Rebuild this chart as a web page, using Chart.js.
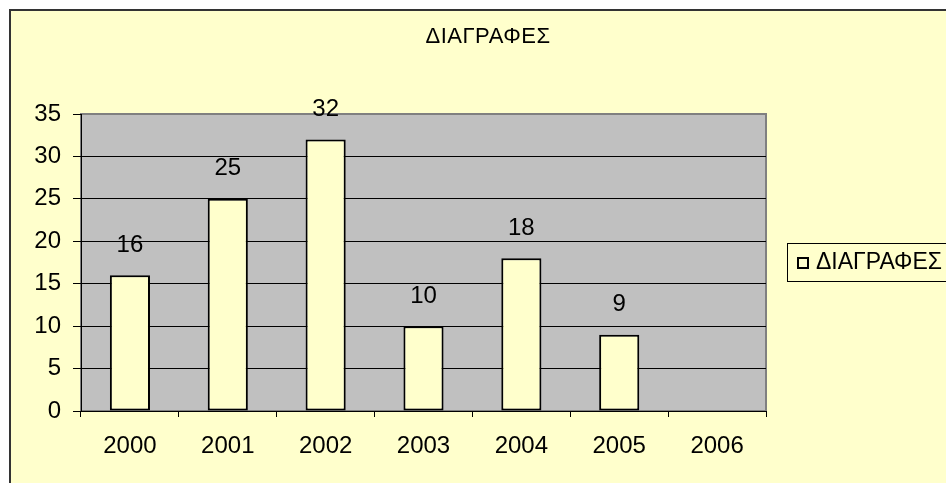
<!DOCTYPE html>
<html>
<head>
<meta charset="utf-8">
<script src="https://cdn.jsdelivr.net/npm/chart.js@4.4.1/dist/chart.umd.min.js"></script>
<style>
    html, body { margin: 0; padding: 0; background: #ffffff; }
    canvas { display: block; }
</style>
</head>
<body>
<canvas id="myChart" width="946" height="483"></canvas>
<script>
const chartTitle = "ΔΙΑΓΡΑΦΕΣ";
const seriesLabel = "ΔΙΑΓΡΑΦΕΣ";
const years = ["2000", "2001", "2002", "2003", "2004", "2005", "2006"];
const deletions = [16, 25, 32, 10, 18, 9, null];
const yMax = 35;
const yStep = 5;

const FONT = "'Liberation Sans', Arial, sans-serif";
const paper = "#FFFFCC";
const plotGray = "#C0C0C0";

// page background, frame and grey plot area
const backgroundPlugin = {
    id: "background",
    beforeDraw: (chart) => {
        const ctx = chart.ctx;
        const area = chart.chartArea;
        ctx.save();
        ctx.fillStyle = "#ffffff";
        ctx.fillRect(0, 0, chart.width, chart.height);
        ctx.fillStyle = paper;
        ctx.fillRect(10, 10, chart.width, chart.height);
        ctx.strokeStyle = "#333333";
        ctx.lineWidth = 2;
        ctx.strokeRect(10, 10, chart.width + 20, chart.height + 20);

        ctx.fillStyle = plotGray;
        ctx.fillRect(area.left, area.top, area.right - area.left, area.bottom - area.top);
        ctx.strokeStyle = "#808080";
        ctx.lineWidth = 2;
        ctx.strokeRect(area.left, area.top, area.right - area.left, area.bottom - area.top);
        ctx.restore();
    }
};

// title, value labels and legend box
const decorPlugin = {
    id: "decor",
    afterDraw: (chart) => {
        const ctx = chart.ctx;
        ctx.save();
        ctx.fillStyle = "#000000";
        ctx.textAlign = "center";
        ctx.textBaseline = "middle";

        ctx.font = "22px " + FONT;
        ctx.letterSpacing = "0.5px";
        ctx.fillText(chartTitle, 488, 37);
        ctx.letterSpacing = "0px";

        ctx.font = "24px " + FONT;
        const meta = chart.getDatasetMeta(0);
        meta.data.forEach((bar, i) => {
            const v = chart.data.datasets[0].data[i];
            if (v === null || v === undefined) return;
            ctx.fillText(String(v), bar.x, bar.y - 30);
        });

        // legend
        ctx.fillStyle = paper;
        ctx.fillRect(787, 243, 200, 39);
        ctx.strokeStyle = "#000000";
        ctx.lineWidth = 1;
        ctx.strokeRect(787.5, 243.5, 200, 38);
        ctx.fillStyle = paper;
        ctx.fillRect(797, 257, 11, 11);
        ctx.lineWidth = 2;
        ctx.strokeRect(798, 258, 10, 10);
        ctx.fillStyle = "#000000";
        ctx.textAlign = "left";
        ctx.font = "23px " + FONT;
        ctx.fillText(chart.data.datasets[0].label, 816, 263);
        ctx.restore();
    }
};

new Chart("myChart", {
    type: "bar",
    data: {
        labels: years,
        datasets: [{
            label: seriesLabel,
            data: deletions,
            backgroundColor: paper,
            borderColor: "#000000",
            borderWidth: 2,
            borderSkipped: false,
            categoryPercentage: 1.0,
            barPercentage: 0.41
        }]
    },
    options: {
        responsive: false,
        devicePixelRatio: 1,
        animation: false,
        layout: {
            padding: { left: 0, top: 114, right: 180, bottom: 0 }
        },
        scales: {
            x: {
                afterFit: (scale) => { scale.height = 72; },
                grid: {
                    offset: true,
                    drawOnChartArea: false,
                    drawTicks: true,
                    tickLength: 6,
                    tickColor: "#000000",
                    color: "#000000"
                },
                border: { display: true, color: "#000000", width: 1 },
                ticks: {
                    color: "#000000",
                    font: { family: FONT, size: 24 },
                    padding: 15,
                    maxRotation: 0
                }
            },
            y: {
                min: 0,
                max: yMax,
                afterFit: (scale) => { scale.width = 81; },
                grid: {
                    color: (c) => (c.tick && c.tick.value === yMax ? "#808080" : "#000000"),
                    lineWidth: 1,
                    tickLength: 8,
                    tickColor: "#000000"
                },
                border: { display: true, color: "#000000", width: 1 },
                ticks: {
                    stepSize: yStep,
                    color: "#000000",
                    font: { family: FONT, size: 24 },
                    padding: 12
                }
            }
        },
        plugins: {
            legend: { display: false },
            title: { display: false },
            tooltip: { enabled: false }
        }
    },
    plugins: [backgroundPlugin, decorPlugin]
});
</script>
</body>
</html>
